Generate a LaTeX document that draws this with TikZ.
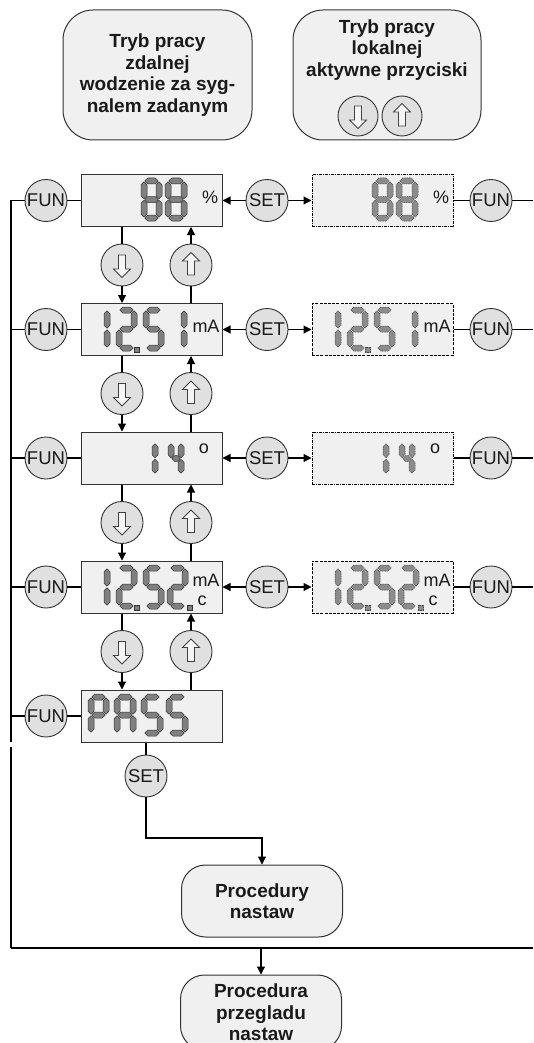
\documentclass[tikz,border=0pt]{standalone}
\usepackage{fontspec}
\setmainfont{Liberation Sans}
\usetikzlibrary{arrows.meta}
\definecolor{boxfill}{HTML}{F0F0F0}
\definecolor{btnfill}{HTML}{E0E0E0}
\definecolor{segfill}{HTML}{808080}
\definecolor{segfillB}{HTML}{8C8C8C}
\definecolor{edge}{HTML}{333333}
\definecolor{txt}{HTML}{1A1A1A}
\tikzset{
 lcd/.style={draw=edge, fill=boxfill, line width=1pt, minimum width=141pt, minimum height=52pt, inner sep=0pt},
 lcddd/.style={lcd, draw=black, dash pattern=on 3pt off 1pt on 1pt off 1pt},
 lcdds/.style={lcd, draw=black, dash pattern=on 3pt off 1.2pt},
 btn/.style={circle, draw=edge, fill=btnfill, line width=0.9pt, minimum size=42pt, inner sep=0pt, text=txt, font=\fontsize{18.5}{18.5}\selectfont},
 term/.style={draw=edge, fill=boxfill, line width=1pt, rounded corners=30pt, align=center, inner sep=0pt, text=txt, font=\fontsize{19}{21.5}\selectfont\bfseries},
 termtext/.style={align=center, inner sep=0pt, text=txt, font=\fontsize{19}{21.5}\selectfont\bfseries},
 unit/.style={inner sep=0pt, text=txt, font=\fontsize{18}{18}\selectfont},
 conn/.style={line width=1.1pt, black},
 arr/.style={conn, -{Triangle[length=8pt,width=8pt]}},
 seg/.style={fill=segfill, draw=black!80, line width=0.5pt, line join=round},
 segB/.style={fill=segfillB, draw=black!75, line width=0.5pt, line join=round, dash pattern=on 1pt off 0.7pt},
 icon/.style={fill=white!96!black, draw=black!75, line width=0.8pt, line join=miter},
}
% half thickness of a segment: 3
\newcommand{\hs}[3]{\path[curseg] (#1,#3) -- ({#1+3},{#3-3}) -- ({#2-3},{#3-3}) -- (#2,#3) -- ({#2-3},{#3+3}) -- ({#1+3},{#3+3}) -- cycle;}
\newcommand{\vs}[3]{\path[curseg] (#1,#2) -- ({#1+3},{#2+3}) -- ({#1+3},{#3-3}) -- (#1,#3) -- ({#1-3},{#3-3}) -- ({#1-3},{#2+3}) -- cycle;}
\newcommand{\segXa}{\hs{\dgxa}{\dgxb}{3}}
\newcommand{\segXb}{\vs{\dgxr}{\dgya}{\dgyb}}
\newcommand{\segXc}{\vs{\dgxr}{\dgyc}{\dgyd}}
\newcommand{\segXd}{\hs{\dgxa}{\dgxb}{\dgybot}}
\newcommand{\segXe}{\vs{3}{\dgyc}{\dgyd}}
\newcommand{\segXf}{\vs{3}{\dgya}{\dgyb}}
\newcommand{\segXg}{\hs{\dgxa}{\dgxb}{\dgym}}
% style, x, y, w, h, segments
\newcommand{\DG}[6]{%
 \begin{scope}[shift={(#2,#3)}, curseg/.style={#1}]
  \pgfmathsetmacro{\dgxa}{3.8}\pgfmathsetmacro{\dgxb}{#4-3.8}
  \pgfmathsetmacro{\dgxr}{#4-3}
  \pgfmathsetmacro{\dgya}{3.8}\pgfmathsetmacro{\dgyb}{#5/2-0.8}
  \pgfmathsetmacro{\dgyc}{#5/2+0.8}\pgfmathsetmacro{\dgyd}{#5-3.8}
  \pgfmathsetmacro{\dgym}{#5/2}\pgfmathsetmacro{\dgybot}{#5-3}
  \foreach \s in {#6}{\csname segX\s\endcsname}
 \end{scope}}
\newcommand{\DT}[3]{\path[#1] ({#2-2.7},{#3-2.7}) rectangle ({#2+2.7},{#3+2.7});}
\newcommand{\DispA}[2]{% row 1: 88
 \DG{#1}{141+#2}{178}{21}{43}{a,b,c,d,e,f,g}
 \DG{#1}{165+#2}{178}{22}{43}{a,b,c,d,e,f,g}}
\newcommand{\DispB}[2]{% row 2: 12.5 1
 \DG{#1}{89+#2}{307}{21}{44}{b,c}
 \DG{#1}{116+#2}{307}{21}{44}{a,b,g,e,d}
 \DT{#1}{137+#2}{350}
 \DG{#1}{143+#2}{307}{21}{44}{a,f,g,c,d}
 \DG{#1}{166+#2}{307}{21}{44}{b,c}}
\newcommand{\DispC}[2]{% row 3: 14
 \DG{#1}{142+#2}{440}{16}{37}{b,c}
 \DG{#1}{168+#2}{440}{16}{37}{f,g,b,c}}
\newcommand{\DispD}[2]{% row 4: 12.52.
 \DG{#1}{89+#2}{565}{21}{44}{b,c}
 \DG{#1}{116+#2}{565}{21}{44}{a,b,g,e,d}
 \DT{#1}{137+#2}{608}
 \DG{#1}{143+#2}{565}{21}{44}{a,f,g,c,d}
 \DG{#1}{167+#2}{565}{21}{44}{a,b,g,e,d}
 \DT{#1}{190+#2}{608}}
\newcommand{\DownIcon}[1]{\draw[icon, shift={(#1.center)}] (-3.5,-10) -- (3.5,-10) -- (3.5,4) -- (8.5,4) -- (0,12.5) -- (-8.5,4) -- (-3.5,4) -- cycle;}
\newcommand{\UpIcon}[1]{\draw[icon, shift={(#1.center)}] (-3.5,10) -- (3.5,10) -- (3.5,-4) -- (8.5,-4) -- (0,-12.5) -- (-8.5,-4) -- (-3.5,-4) -- cycle;}
\begin{document}
\begin{tikzpicture}[x=1pt,y=-1pt]
\useasboundingbox (0,0) rectangle (533,1043);
\clip (0,0) rectangle (533,1043);
\fill[white] (0,0) rectangle (533,1043);

% top mode boxes
\node[term, minimum width=189pt, minimum height=130pt] (T1) at (157.5,75) {Tryb pracy\\zdalnej\\wodzenie za syg-\\nalem zadanym};
\node[term, minimum width=188pt, minimum height=130pt] (T2) at (387,75) {};
\node[termtext] (T2t) at (387,50) {Tryb pracy\\lokalnej\\aktywne przyciski};
\node[btn, minimum size=40pt] (B1) at (358,116) {};
\node[btn, minimum size=40pt] (B2) at (402,116) {};
\DownIcon{B1}
\UpIcon{B2}

% coordinates of outer lines
\coordinate (lb) at (11,948);
\coordinate (rb) at (533,948);
\coordinate (g1) at (11,742);
\coordinate (g2) at (11,747);

% rows
\foreach \i/\y in {1/200.5,2/329.5,3/458,4/587,5/716}{
  \node[btn] (FL\i) at (46,\y) {FUN};
  \node[lcd] (L\i) at (151.5,\y) {};
}
\node[lcddd] (R1) at (382.5,200.5) {};
\node[lcdds] (R2) at (382.5,329.5) {};
\node[lcddd] (R3) at (382.5,458) {};
\node[lcdds] (R4) at (382.5,587) {};
\foreach \i/\y in {1/200.5,2/329.5,3/458,4/587}{
  \node[btn] (S\i) at (267,\y) {SET};
  \node[btn] (FR\i) at (491,\y) {FUN};
}
% up / down buttons between rows
\foreach \i/\y in {1/265,2/393.5,3/522.5,4/651.5}{
  \node[btn] (D\i) at (122,\y) {};
  \node[btn] (U\i) at (191,\y) {};
  \DownIcon{D\i}
  \UpIcon{U\i}
}

% displays
\DispA{seg}{0}   \DispA{segB}{231}
\DispB{seg}{0}   \DispB{segB}{231}
\DispC{seg}{0}   \DispC{segB}{231}
\DispD{seg}{0}   \DispD{segB}{231}
% PASS
\DG{seg}{88}{694}{21}{42}{a,b,f,g,e}
\DG{seg}{114}{694}{22}{42}{a,b,c,e,f,g}
\DG{seg}{141}{694}{22}{42}{a,f,g,c,d}
\DG{seg}{166}{694}{22}{42}{a,f,g,c,d}

% units
\node[unit] (u1) at (210,197) {\%};
\node[unit] (u1r) at (441,197) {\%};
\node[unit] (u2) at (206,326) {mA};
\node[unit] (u2r) at (437,326) {mA};
\node[unit] (u3) at (204,449) {o};
\node[unit] (u3r) at (435,449) {o};
\node[unit] (u4) at (206,580) {mA};
\node[unit] (u4r) at (437,580) {mA};
\node[unit] (u4c) at (202,601) {c};
\node[unit] (u4cr) at (433,601) {c};

% bottom part
\node[btn] (S5) at (146,776) {SET};
\node[term, rounded corners=24pt, minimum width=161pt, minimum height=72pt] (P1) at (262,901) {Procedury\\nastaw};
\node[term, rounded corners=24pt, minimum width=161pt, minimum height=75pt] (P2) at (261,1012.5) {Procedura\\przegladu\\nastaw};
\coordinate (k1) at (146,838);

% connectors
\draw[conn] (FL1.west) -| (g1);
\draw[conn] (g2) -- (lb);
\foreach \i in {2,3,4,5}{ \draw[conn] (FL\i.west) -- (FL\i.west -| lb); }
\foreach \i in {1,2,3,4,5}{ \draw[conn] (FL\i) -- (L\i); }
\foreach \i in {1,2,3,4}{
  \draw[arr] (S\i) -- (L\i);
  \draw[arr] (S\i) -- (R\i);
  \draw[conn] (R\i) -- (FR\i);
  \draw[conn] (FR\i.east) -- (FR\i.east -| rb);
}
\foreach \i in {1,2,3,4}{
  \pgfmathtruncatemacro{\j}{\i+1}
  \draw[conn] (L\i.south -| D\i) -- (D\i);
  \draw[arr] (D\i) -- (L\j.north -| D\i);
  \draw[conn] (L\j.north -| U\i) -- (U\i);
  \draw[arr] (U\i) -- (L\i.south -| U\i);
}
\draw[conn] (L5.south -| S5) -- (S5);
\draw[arr] (S5) -- (k1) -| (P1.north);
\draw[conn] (lb) -- (rb);
\draw[arr] (P2.north |- lb) -- (P2.north);
\end{tikzpicture}
\end{document}
